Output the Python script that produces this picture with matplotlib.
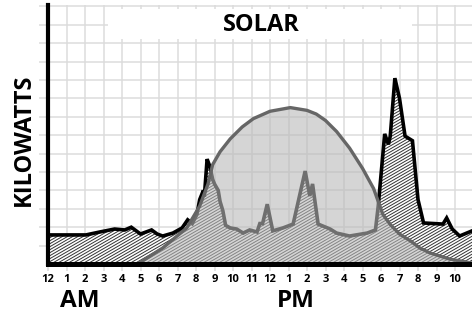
import matplotlib.pyplot as plt
import numpy as np
from matplotlib.collections import LineCollection
from matplotlib.patches import Rectangle

plt.rcParams['font.family'] = ['Open Sans', 'DejaVu Sans']
plt.rcParams['font.weight'] = 'bold'

# hour ticks, midnight to 10 pm
hour_ticks = list(range(23))
hour_labels = ['12', '1', '2', '3', '4', '5', '6', '7', '8', '9', '10', '11',
               '12', '1', '2', '3', '4', '5', '6', '7', '8', '9', '10']

# building load (kW)
load_hours = [0, 2.05, 2.8, 3.6, 4.15, 4.5, 5.0, 5.6, 5.9, 6.2, 6.75, 7.25, 7.55,
              7.8, 8.05, 8.2, 8.4, 8.45, 8.6, 8.75, 8.9, 9.0, 9.2, 9.3, 9.45,
              9.6, 9.85, 10.2, 10.55, 10.9, 11.3, 11.45, 11.6, 11.85, 12.15,
              12.7, 13.25, 13.9, 14.15, 14.3, 14.6, 15.25, 15.6, 16.3, 17.25,
              17.7, 17.85, 18.2, 18.4, 18.5, 18.75, 19.0, 19.3, 19.7, 20.0,
              20.3, 21.35, 21.55, 21.85, 22.25, 22.92]
load_kw = [1.58, 1.58, 1.74, 1.9, 1.85, 2.0, 1.63, 1.85, 1.63, 1.52, 1.68, 1.96,
           2.4, 2.2, 2.7, 3.5, 4.0, 3.65, 5.7, 5.3, 4.6, 4.35, 4.0, 3.4, 2.9,
           2.1, 1.96, 1.9, 1.68, 1.85, 1.74, 2.2, 2.2, 3.25, 1.8, 1.96, 2.17,
           5.05, 3.7, 4.35, 2.17, 1.9, 1.68, 1.52, 1.68, 1.85, 3.15, 7.07, 6.5,
           6.95, 10.1, 9.0, 6.95, 6.7, 3.5, 2.23, 2.17, 2.5, 1.9, 1.52, 1.8]

# solar output (kW)
solar_hours = [4.85, 6.2, 7.5, 8.2, 8.65, 8.9, 9.3, 9.85, 10.5, 11.1, 12.0, 13.1,
               14.0, 14.5, 15.0, 15.6, 16.3, 17.0, 17.6, 18.1, 18.5, 19.0, 19.6,
               20.1, 20.65, 21.7, 22.92]
solar_kw = [0, 0.87, 1.96, 3.15, 4.35, 5.4, 6.1, 6.8, 7.45, 7.9, 8.3, 8.5, 8.35,
            8.15, 7.8, 7.2, 6.3, 5.2, 4.1, 2.7, 2.15, 1.63, 1.25, 0.87, 0.6,
            0.27, 0.05]

fig = plt.figure(figsize=(4.72, 3.13), dpi=100)
ax = fig.add_axes([48 / 472, 49 / 313, 424 / 472, 259 / 313])
ax.set_xlim(0, 424 / 18.5)
ax.set_ylim(0, 259 / 18.4)

ax.set_xticks(hour_ticks)
ax.set_xticklabels(hour_labels, fontsize=8, fontweight='bold')
ax.set_yticks(range(1, 15))
ax.tick_params(axis='y', length=6.5, width=1.1, color='#dcdcdc', labelleft=False)
ax.tick_params(axis='x', length=5, width=1.1, color='#dcdcdc', pad=2.5)
ax.grid(True, color='#dcdcdc', linewidth=1.1)
ax.set_axisbelow(True)

for side in ['top', 'right']:
    ax.spines[side].set_visible(False)
ax.spines['left'].set_linewidth(3)
ax.spines['bottom'].set_linewidth(3.6)
ax.spines['left'].set_zorder(10)
ax.spines['bottom'].set_zorder(10)

# white box behind the title
ax.add_patch(Rectangle((3.24, 12.25), 16.46, 1.6, facecolor='white',
                       edgecolor='none', zorder=1))

# area under the load, white with sketchy hatching
load_poly = ax.fill_between(load_hours, load_kw, 0, facecolor='white',
                            edgecolor='none', zorder=2)
slope = 0.58
starts = np.arange(-20, 23, 0.28)
segs = [[(c, 0), (c + 20, 20 * slope)] for c in starts]
hatch = LineCollection(segs, colors='#333333', linewidths=0.7, zorder=2.1)
ax.add_collection(hatch)
hatch.set_clip_path(load_poly.get_paths()[0], ax.transData)

ax.plot(load_hours, load_kw, color='black', linewidth=2.6,
        solid_joinstyle='miter', zorder=3)

# solar dome drawn over the load so the load shows through grey
ax.fill_between(solar_hours, solar_kw, 0, facecolor='#bababa', alpha=0.6,
                edgecolor='none', zorder=4)
ax.plot(solar_hours, solar_kw, color='#666666', linewidth=2.4, zorder=5)

fig.text(261 / 472, 1 - 25 / 313, 'SOLAR', fontsize=17, fontweight='bold',
         ha='center', va='center')
fig.text(24 / 472, 1 - 140 / 313, 'KILOWATTS', fontsize=17, fontweight='bold',
         rotation=90, ha='center', va='center')
fig.text(80 / 472, 1 - 301 / 313, 'AM', fontsize=17.5, fontweight='bold',
         ha='center', va='center')
fig.text(296 / 472, 1 - 301 / 313, 'PM', fontsize=17.5, fontweight='bold',
         ha='center', va='center')

fig.savefig('out.png', dpi=100)
